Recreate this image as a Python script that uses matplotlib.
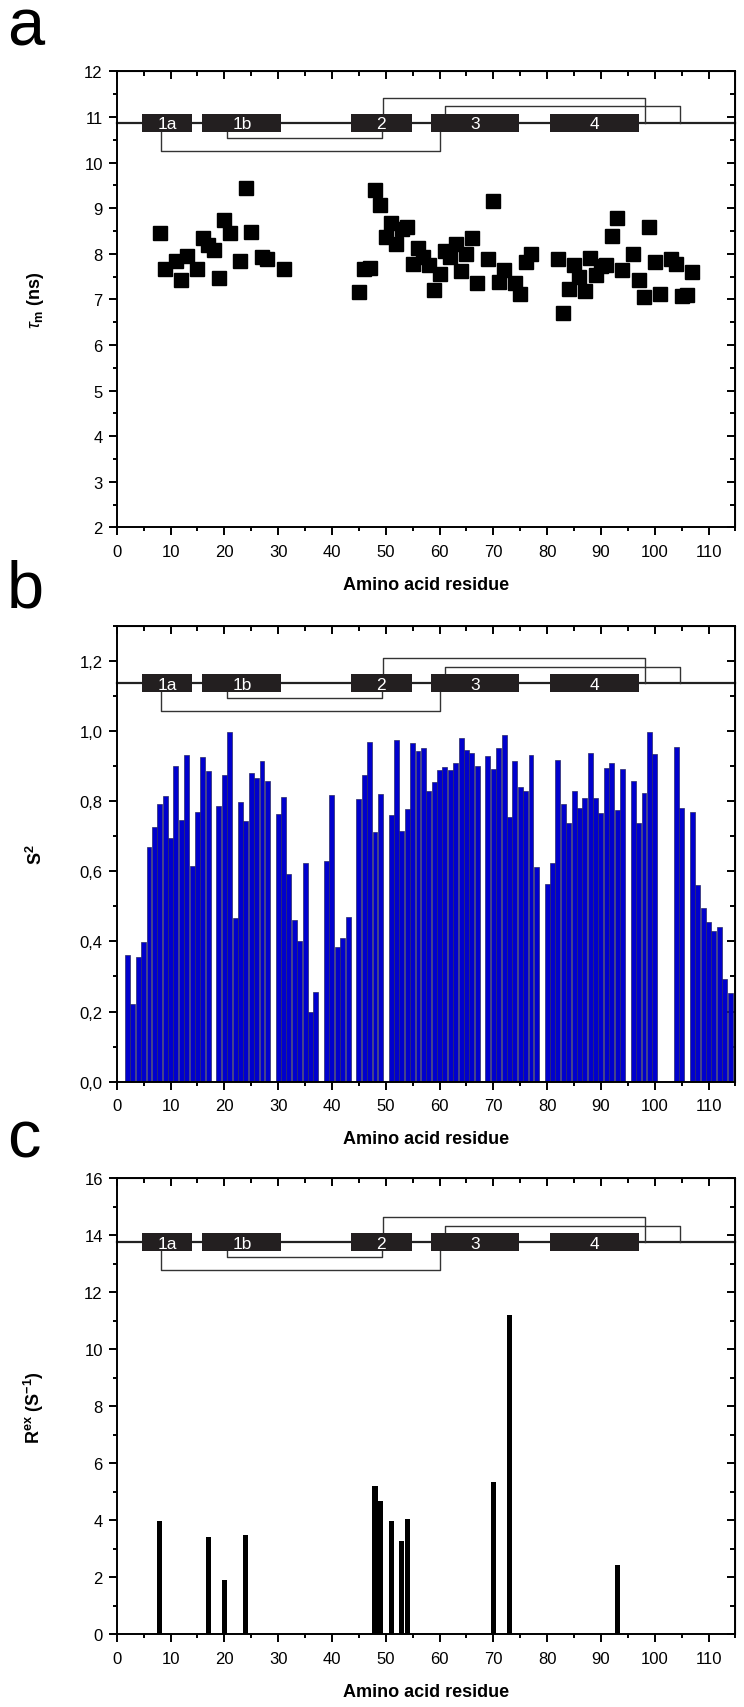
import numpy as np
import matplotlib
matplotlib.use('Agg')
import matplotlib.pyplot as plt
from matplotlib.patches import Rectangle
from matplotlib.ticker import MultipleLocator, FuncFormatter

plt.rcParams['font.family'] = ['Liberation Sans', 'DejaVu Sans']
plt.rcParams['mathtext.fontset'] = 'custom'
plt.rcParams['mathtext.rm'] = 'Liberation Sans'
plt.rcParams['mathtext.bf'] = 'Liberation Sans:bold'
plt.rcParams['mathtext.it'] = 'Liberation Sans:italic'

# panel a: tau_m (ns) per residue
tau_res = [8, 9, 11, 12, 13, 15, 16, 17, 18, 19, 20, 21, 23, 24, 25, 27, 28, 31,
           45, 46, 47, 48, 49, 50, 51, 52, 53, 54, 55, 56, 57, 58, 59, 60, 61, 62,
           63, 64, 65, 66, 67, 69, 70, 71, 72, 74, 75, 76, 77,
           82, 83, 84, 85, 86, 87, 88, 89, 90, 91, 92, 93, 94, 96, 97, 98, 99,
           100, 101, 103, 104, 105, 106, 107]
tau_val = [8.46, 7.66, 7.85, 7.42, 7.95, 7.66, 8.35, 8.20, 8.09, 7.47, 8.75, 8.45, 7.84, 9.44, 8.48, 7.94, 7.88, 7.67,
           7.16, 7.66, 7.69, 9.39, 9.06, 8.36, 8.67, 8.22, 8.55, 8.58, 7.77, 8.12, 7.94, 7.76, 7.20, 7.55, 8.07, 7.94,
           8.22, 7.62, 7.99, 8.35, 7.36, 7.88, 9.15, 7.39, 7.65, 7.36, 7.12, 7.82, 8.00,
           7.89, 6.71, 7.23, 7.76, 7.49, 7.18, 7.91, 7.53, 7.73, 7.76, 8.39, 8.78, 7.65, 8.00, 7.42, 7.05, 8.58,
           7.83, 7.11, 7.89, 7.77, 7.07, 7.10, 7.60]

# panel b: order parameter S2
s2_res = [2, 3, 4, 5, 6, 7, 8, 9, 10, 11, 12, 13, 14, 15, 16, 17,
          19, 20, 21, 22, 23, 24, 25, 26, 27, 28,
          30, 31, 32, 33, 34, 35, 36, 37,
          39, 40, 41, 42, 43,
          45, 46, 47, 48, 49,
          51, 52, 53, 54, 55, 56, 57, 58, 59, 60, 61, 62, 63, 64, 65, 66, 67,
          69, 70, 71, 72, 73, 74, 75, 76, 77, 78,
          80, 81, 82, 83, 84, 85, 86, 87, 88, 89, 90, 91, 92, 93, 94,
          96, 97, 98, 99, 100,
          104, 105,
          107, 108, 109, 110, 111, 112, 113, 114]
s2_val = [0.360, 0.222, 0.356, 0.397, 0.669, 0.725, 0.791, 0.814, 0.694, 0.900, 0.746, 0.932, 0.615, 0.770, 0.926, 0.885,
          0.786, 0.874, 0.997, 0.468, 0.796, 0.743, 0.881, 0.865, 0.914, 0.857,
          0.763, 0.812, 0.591, 0.461, 0.400, 0.624, 0.198, 0.256,
          0.629, 0.818, 0.385, 0.410, 0.470,
          0.805, 0.873, 0.969, 0.713, 0.821,
          0.760, 0.973, 0.716, 0.777, 0.965, 0.943, 0.952, 0.829, 0.855, 0.888, 0.897, 0.888, 0.909, 0.979, 0.945, 0.938, 0.900,
          0.928, 0.890, 0.950, 0.988, 0.754, 0.913, 0.840, 0.830, 0.931, 0.612,
          0.564, 0.624, 0.917, 0.791, 0.738, 0.829, 0.779, 0.808, 0.938, 0.808, 0.767, 0.895, 0.909, 0.774, 0.892,
          0.858, 0.738, 0.824, 0.997, 0.935,
          0.955, 0.779,
          0.770, 0.560, 0.495, 0.455, 0.429, 0.440, 0.293, 0.252]

# panel c: exchange term
rex_res = [8, 17, 20, 24, 48, 49, 51, 53, 54, 70, 73, 93]
rex_val = [3.96, 3.40, 1.89, 3.48, 5.21, 4.68, 3.99, 3.28, 4.06, 5.34, 11.2, 2.44]

# secondary structure elements and disulfide bridges
ss_labels = ['1a', '1b', '2', '3', '4']
ss_start = [4.7, 15.9, 43.6, 58.4, 80.5]
ss_end = [14.0, 30.6, 54.8, 74.8, 97.0]
bridge_from = [49.4, 61.1, 20.5, 8.2]
bridge_to = [98.2, 104.7, 49.3, 60.0]
bridge_side = [0.055, 0.036, -0.033, -0.061]


def topology(ax, base):
    tr = ax.get_xaxis_transform()
    ax.plot([0, 115], [base, base], color='#222222', lw=1.6, transform=tr, zorder=2, clip_on=False)
    for x0, x1, dy in zip(bridge_from, bridge_to, bridge_side):
        ax.plot([x0, x0, x1, x1], [base, base + dy, base + dy, base],
                color='#333333', lw=1.0, transform=tr, zorder=2)
    for lab, x0, x1 in zip(ss_labels, ss_start, ss_end):
        ax.add_patch(Rectangle((x0, base - 0.02), x1 - x0, 0.04, transform=tr,
                               facecolor='#231f20', edgecolor='none', zorder=3))
        ax.text((x0 + x1) / 2, base - 0.002, lab, transform=tr, color='white',
                fontsize=12.5, ha='center', va='center', zorder=4,
                family=['Liberation Sans Narrow', 'Liberation Sans'])


def style(ax, ymaj, ymin, ylim):
    ax.set_xlim(0, 115)
    ax.set_ylim(*ylim)
    for s in ax.spines.values():
        s.set_linewidth(1.4)
    ax.xaxis.set_major_locator(MultipleLocator(10))
    ax.xaxis.set_minor_locator(MultipleLocator(5))
    ax.yaxis.set_major_locator(MultipleLocator(ymaj))
    ax.yaxis.set_minor_locator(MultipleLocator(ymin))
    ax.tick_params(which='major', direction='out', length=6, width=1.4, labelsize=12)
    ax.tick_params(which='minor', direction='out', length=3, width=1.4)
    ax.tick_params(axis='x', pad=6)
    ax.tick_params(axis='y', pad=4)
    top = ax.secondary_xaxis('top')
    top.xaxis.set_major_locator(MultipleLocator(10))
    top.xaxis.set_minor_locator(MultipleLocator(5))
    top.tick_params(which='major', direction='in', length=6, width=1.4, labeltop=False)
    top.tick_params(which='minor', direction='in', length=3.5, width=1.4)
    right = ax.secondary_yaxis('right')
    right.yaxis.set_major_locator(MultipleLocator(ymaj))
    right.yaxis.set_minor_locator(MultipleLocator(ymin))
    right.tick_params(which='major', direction='in', length=6, width=1.4, labelright=False)
    right.tick_params(which='minor', direction='in', length=3.5, width=1.4)
    ax.set_xlabel('Amino acid residue', fontsize=13, fontweight='bold', labelpad=12)
    ax.yaxis.set_label_coords(-0.115, 0.5)


fig = plt.figure(figsize=(7.44, 17.08), dpi=100)
left, width, height = 0.1569, 0.8316, 0.267
ax_a = fig.add_axes([left, 0.6906, width, height])
ax_b = fig.add_axes([left, 0.3661, width, height])
ax_c = fig.add_axes([left, 0.04256, width, height])

ax_a.plot(tau_res, tau_val, 's', color='black', ms=9.5, zorder=5)
style(ax_a, 1, 0.5, (2, 12))
ax_a.set_ylabel(r'$\tau_{\mathbf{m}}$ (ns)', fontsize=13, fontweight='bold')
topology(ax_a, 0.8875)

ax_b.bar(s2_res, s2_val, width=0.92, color='#0000cd', edgecolor='#2a2a66', linewidth=0.5, zorder=1)
style(ax_b, 0.2, 0.1, (0, 1.3))
ax_b.yaxis.set_major_formatter(FuncFormatter(lambda v, p: f'{v:.1f}'.replace('.', ',')))
ax_b.set_ylabel(r'S$^{\mathbf{2}}$', fontsize=13, fontweight='bold')
topology(ax_b, 0.874)

ax_c.bar(rex_res, rex_val, width=0.95, color='black', zorder=1)
style(ax_c, 2, 1, (0, 16))
ax_c.set_ylabel(r'R$^{\mathbf{ex}}$ (S$^{\mathbf{-1}}$)', fontsize=13, fontweight='bold')
topology(ax_c, 0.86)

for lab, ytop in [('a', 45), ('b', 607), ('c', 1158)]:
    fig.text(7 / 744, 1 - ytop / 1708, lab, fontsize=48, ha='left', va='baseline')

fig.savefig('out.png', dpi=100)
